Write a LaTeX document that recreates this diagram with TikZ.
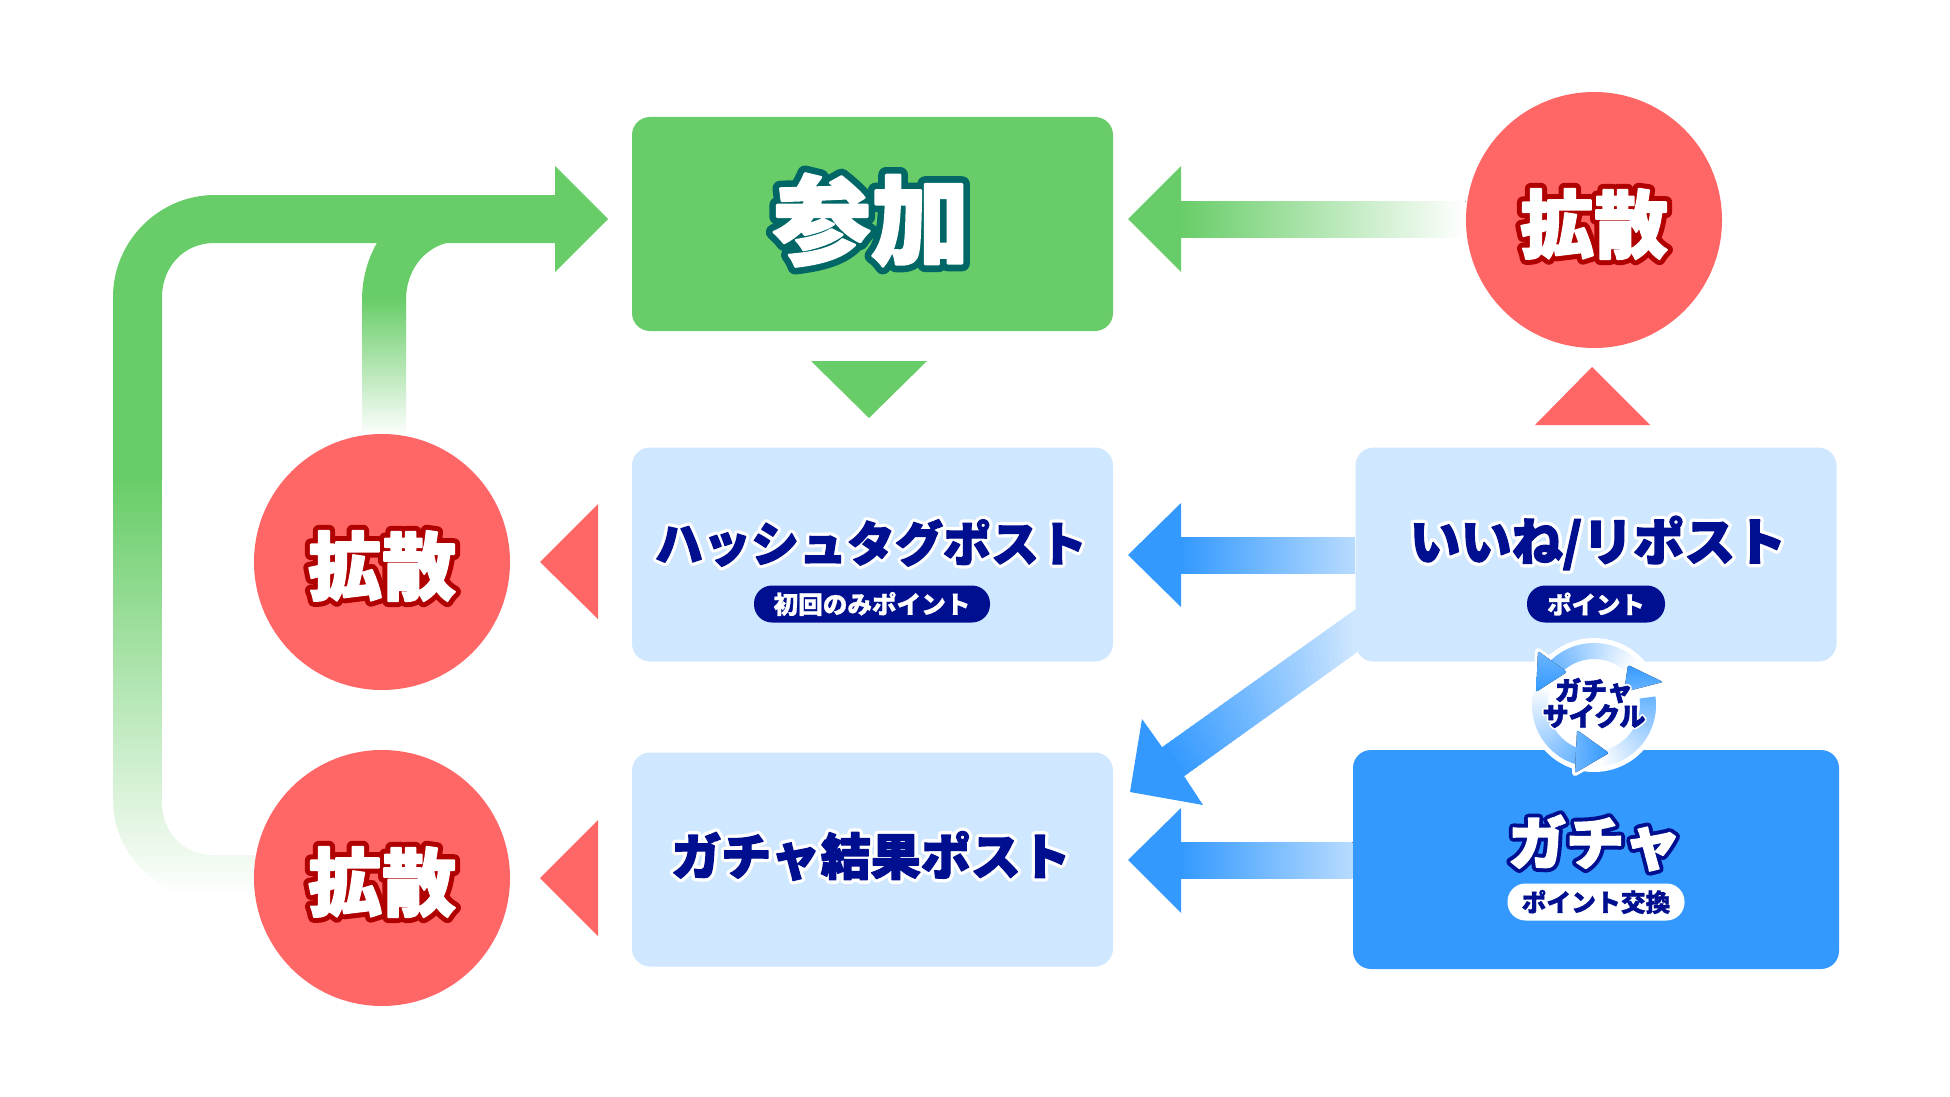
\documentclass[tikz,border=0pt]{standalone}
\usepackage{fontspec}
\usetikzlibrary{backgrounds,calc}
\newfontfamily\jpfill[FakeBold=2.5]{Noto Sans CJK JP Black}
\newfontfamily\jptag[FakeBold=1]{Noto Sans CJK JP Black}
\newfontfamily\jpwide[FakeBold=16]{Noto Sans CJK JP Black}
\definecolor{grn}{HTML}{68CD68}
\definecolor{redc}{HTML}{FF6666}
\definecolor{lblue}{HTML}{CFE7FF}
\definecolor{bluec}{HTML}{3399FF}
\definecolor{navy}{HTML}{000F8F}
\definecolor{teal2}{HTML}{006666}
\definecolor{dred}{HTML}{B00000}
\newcommand\halo[4]{\pgfsetroundjoin\pgfsetroundcap\fontsize{#1}{#1}\selectfont\leavevmode\rlap{\color{#2}\jpwide #4}{\color{#3}\jpfill #4}}
% ring segment fading from blue (at the head) to white (at the tail)
\newcommand\cycarc[1]{%
  \foreach \i in {0,...,35}{%
    \pgfmathsetmacro\ta{#1+\i*2.6}%
    \pgfmathsetmacro\tb{\ta+3.2}%
    \pgfmathsetmacro\pct{72*(1-\i/35)}%
    \fill[bluec!\pct!white] ({1594+62*cos(\ta)},{705+62*sin(\ta)}) -- ({1594+62*cos(\tb)},{705+62*sin(\tb)}) -- ({1594+46*cos(\tb)},{705+46*sin(\tb)}) -- ({1594+46*cos(\ta)},{705+46*sin(\ta)}) -- cycle;
  }}
\tikzset{
 boxbase/.style={rectangle,rounded corners=9pt,inner sep=0pt,minimum width=240.5pt,minimum height=107pt},
 boxlight/.style={boxbase,fill=lblue},
 boxgreen/.style={boxbase,fill=grn},
 boxblue/.style={boxbase,fill=bluec,minimum width=243pt,minimum height=109.5pt},
 bubble/.style={circle,fill=redc,inner sep=0pt,minimum size=128pt},
 pillnavy/.style={rectangle,rounded corners=9pt,fill=navy,text=white,inner sep=0pt,minimum height=18.5pt},
 pillwhite/.style={rectangle,rounded corners=9pt,fill=white,text=navy,inner sep=0pt,minimum height=18.5pt},
 ttl/.style={inner sep=0pt},
 solidgreen/.style={fill=grn},
 solidblue/.style={fill=bluec},
 solidred/.style={fill=redc},
}
\begin{document}
\begin{tikzpicture}[x=0.5pt,y=-0.5pt]
\useasboundingbox (0,0) rectangle (1950,1097);
% boxes
\node[boxgreen] (join) at (872.5,224) {};
\node[boxlight] (hash) at (872.5,554.5) {};
\node[boxlight] (result) at (872.5,859.5) {};
\node[boxlight] (likes) at (1596,554.5) {};
\node[boxblue] (gacha) at (1596,859.5) {};
\node[bubble] (sp1) at (1594,220) {};
\node[bubble] (sp2) at (382,562) {};
\node[bubble] (sp3) at (382,878) {};
% background connectors
\begin{scope}[on background layer]
\fill[white] (0,0) rectangle (1950,1097);
% left L arrow
\fill[solidgreen] (608,219) -- (555,166) -- (555,195) -- (215,195) .. controls (159,195) and (113,241) .. (113,297) -- (113,482) -- (162,482) -- (162,297) .. controls (162,267) and (184,243) .. (214,243) -- (555,243) -- (555,272) -- cycle;
\fill[top color=grn,bottom color=white] (113,480) rectangle (sp3.center |- 0,898);
\fill[white] (105,800) -- (113,800) .. controls (113,855) and (158,898) .. (212,898) -- (400,898) -- (400,905) -- (105,905) -- cycle;
\fill[white] (162,478) -- (162,803) .. controls (162,832) and (184,855) .. (212,855) -- (400,855) -- (400,478) -- cycle;
% branch from sp2
\fill[solidgreen] (362,300) .. controls (362,278) and (368,258) .. (378,241) -- (446,241) -- (446,243) .. controls (422,250) and (406,272) .. (406,300) -- cycle;
\fill[top color=grn,bottom color=white] (362,298) rectangle (406,436);
% right green arrow
\fill[solidgreen] (1128,219) -- (1181,166) -- (1181,272) -- cycle;
\fill[left color=grn,right color=white] (1180,201) rectangle (sp1.west |- 0,237);
% blue arrows
\fill[solidblue] (1128,555) -- (1181,503) -- (1181,607) -- cycle;
\fill[left color=bluec,right color=lblue!85!bluec] (1180,537) rectangle (likes.west |- 0,573);
\fill[solidblue] (1128,860) -- (1181,808) -- (1181,913) -- cycle;
\fill[left color=bluec,right color=lblue!85!bluec] (1180,842) rectangle (gacha.west |- 0,878);
% diagonal
\fill[solidblue] (1130,792) -- (1142,719) -- (1162,747) -- (1184,776) -- (1203,805) -- cycle;
\foreach \i in {0,...,39}{
  \pgfmathsetmacro\ta{\i/40}
  \pgfmathsetmacro\tb{(\i+1.3)/40}
  \pgfmathsetmacro\pct{100*\i/39}
  \fill[lblue!\pct!bluec] ($(1161,748)!\ta!(1356,609)$) -- ($(1161,748)!\tb!(1356,609)$) -- ($(1183,777)!\tb!(1356,653)$) -- ($(1183,777)!\ta!(1356,653)$) -- cycle;
}
\end{scope}
% triangles
\fill[solidgreen] (811,361) -- (927,361) -- (869,418) -- cycle;
\fill[solidred] (1535,425) -- (1650,425) -- (1592,367) -- cycle;
\fill[solidred] (540,562) -- (598,504) -- (598,619) -- cycle;
\fill[solidred] (540,878) -- (598,820) -- (598,936) -- cycle;
% titles
\node[ttl] (tjoin) at (871,220) {\halo{49}{teal2}{white}{参加}};
\node[ttl] (ts1) at (1594,224) {\halo{37}{dred}{white}{拡散}};
\node[ttl] (ts2) at (382,566) {\halo{37}{dred}{white}{拡散}};
\node[ttl] (ts3) at (382,882) {\halo{37}{dred}{white}{拡散}};
\node[ttl] (thash) at (871,543) {\halo{24}{white}{navy}{ハッシュタグポスト}};
\node[ttl] (tlikes) at (1598,543) {\halo{25.5}{white}{navy}{いいね/リポスト}};
\node[ttl] (tres) at (871,856) {\halo{25}{white}{navy}{ガチャ結果ポスト}};
\node[ttl] (tgacha) at (1595,843) {\halo{29}{navy}{white}{ガチャ}};
% pills
\node[pillnavy,minimum width=118pt] (p1) at (872,604) {};
\node[ttl,text=white] (l1) at (p1.center) {\jptag\fontsize{12.3}{12.3}\selectfont 初回のみポイント};
\node[pillnavy,minimum width=69pt] (p2) at (1596,604) {};
\node[ttl,text=white] (l2) at (p2.center) {\jptag\fontsize{12.2}{12.2}\selectfont ポイント};
\node[pillwhite,minimum width=88.5pt] (p3) at (1596,902) {};
\node[ttl,text=navy] (l3) at (p3.center) {\jptag\fontsize{12.4}{12.4}\selectfont ポイント交換};
% cycle icon
\fill[white] (1594,705) circle[radius=67];
\begin{scope}[line join=round]
\draw[white,line width=3pt] (1538,651) -- (1567,672) -- (1536,692) -- cycle;
\draw[white,line width=3pt] (1628,665) -- (1663,682) -- (1624,692) -- cycle;
\draw[white,line width=3pt] (1577,730) -- (1609,753) -- (1575,773) -- cycle;
\cycarc{224}
\cycarc{-8}
\cycarc{108}
\fill[top color=bluec!72,bottom color=bluec,rounded corners=1pt] (1538,651) -- (1567,672) -- (1536,692) -- cycle;
\fill[top color=bluec,bottom color=bluec!72,rounded corners=1pt] (1628,665) -- (1663,682) -- (1624,692) -- cycle;
\fill[left color=bluec!72,right color=bluec,rounded corners=1pt] (1577,730) -- (1609,753) -- (1575,773) -- cycle;
\end{scope}
\node[ttl,align=center] (tcyc) at (1594,703) {\fontsize{13}{15.5}\selectfont\halo{13}{white}{navy}{ガチャ}\\[-.5pt]\halo{13}{white}{navy}{サイクル}};
\end{tikzpicture}
\end{document}
